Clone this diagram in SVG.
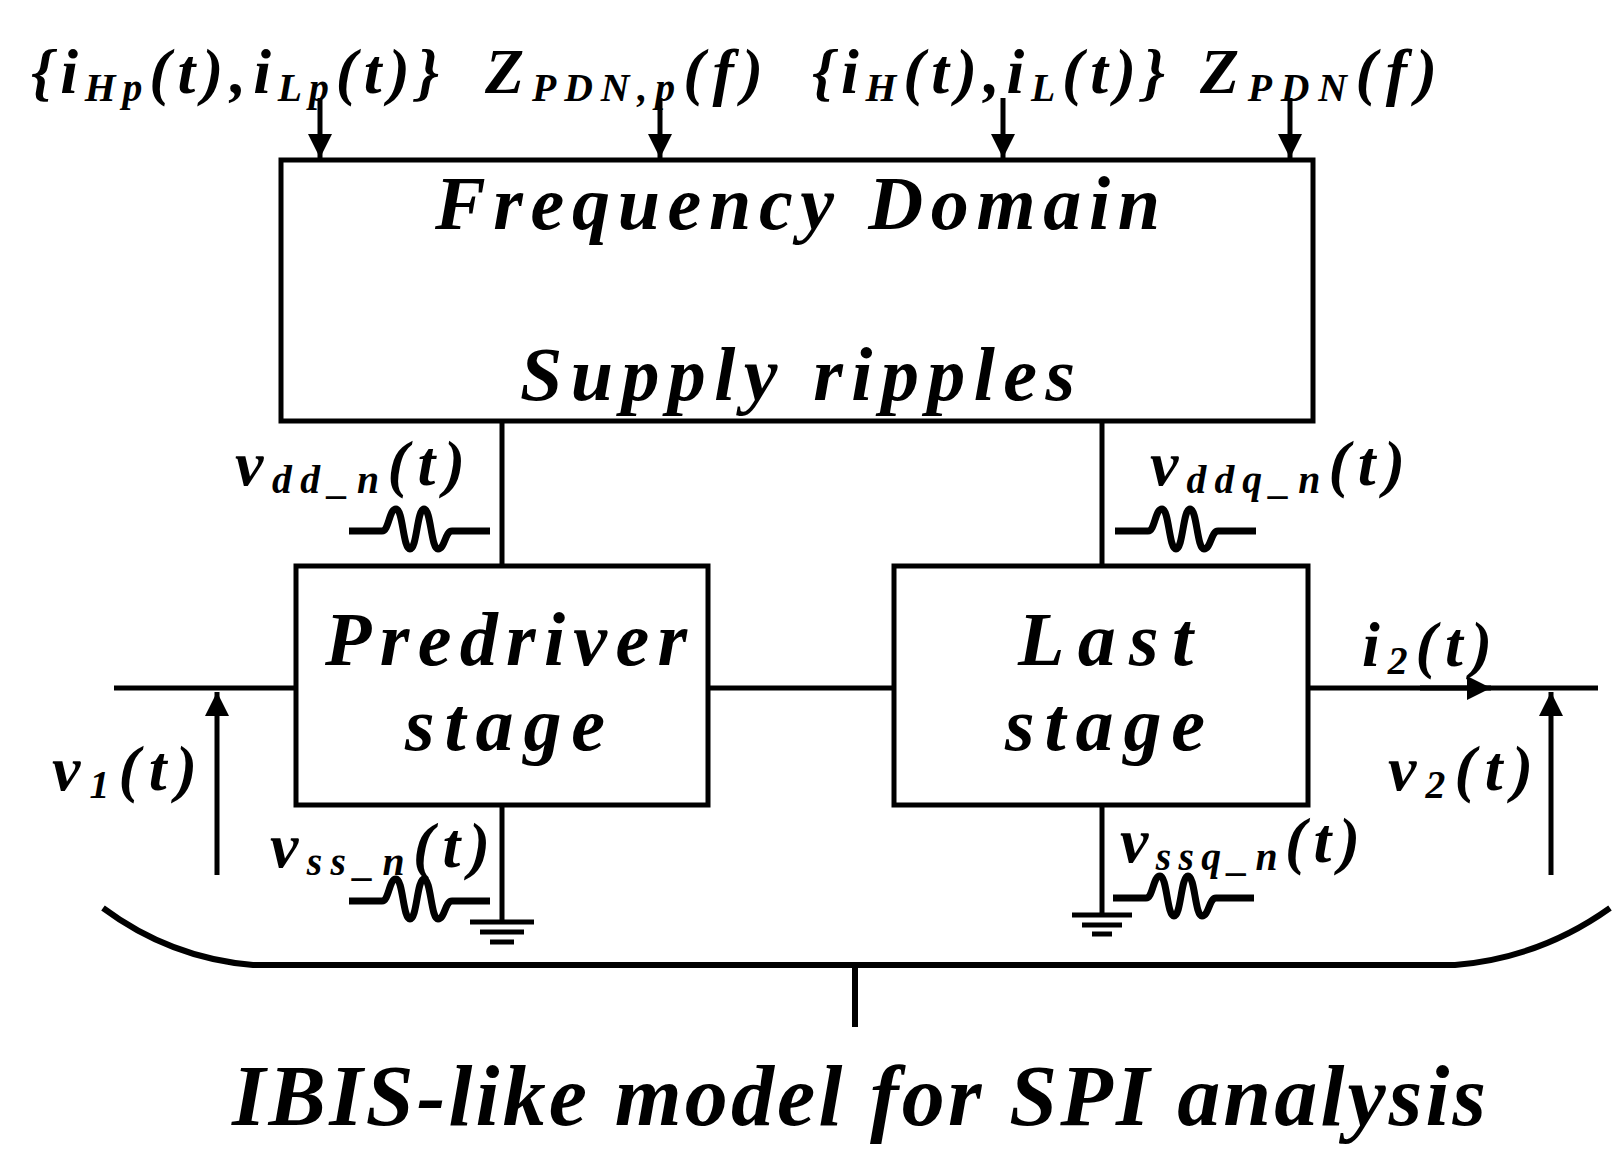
<svg xmlns="http://www.w3.org/2000/svg" width="1615" height="1168" viewBox="0 0 1615 1168">
<defs>
<style>
.t{font-family:"Liberation Serif",serif;font-weight:bold;font-style:italic;fill:#000}
.s{font-size:62%}
.ln{stroke:#000;stroke-width:5;fill:none}
.box{stroke:#000;stroke-width:5;fill:#fff}
</style>
<marker id="a2" viewBox="0 0 10 10" refX="10" refY="5" markerWidth="30" markerHeight="24" orient="auto" markerUnits="userSpaceOnUse"><path d="M0,0 L10,5 L0,10z"/></marker>
</defs>
<rect width="1615" height="1168" fill="#fff"/>
<g id="connectors" class="ln">
<path d="M320,98V158" marker-end="url(#a2)"/>
<path d="M660,98V158" marker-end="url(#a2)"/>
<path d="M1003,98V158" marker-end="url(#a2)"/>
<path d="M1290,98V158" marker-end="url(#a2)"/>
<path d="M502,421V566M1102,421V566M708,688H894M114,688H296M1308,688H1598"/>
<path d="M1420,688H1491" marker-end="url(#a2)"/>
<path d="M217,875V692" marker-end="url(#a2)"/>
<path d="M1551,875V692" marker-end="url(#a2)"/>
<path d="M502,805V922M470,922h64M480,932h44M490,942h24"/>
<path d="M1102,805V915M1072,915h60M1082,925h40M1092,934h20"/>
<path d="M103,908Q170,958 253,965H1455Q1540,958 1610,908" stroke-width="6"/>
<path d="M855,965V1027" stroke-width="6"/>
<g stroke-width="7">
<path d="M349,531H382c7,0 7,-22 14,-22s7,40 14,40s7,-40 14,-40s7,40 14,40s7,-18 14,-18H490"/>
<path d="M1115,531H1148c7,0 7,-22 14,-22s7,40 14,40s7,-40 14,-40s7,40 14,40s7,-18 14,-18H1256"/>
<path d="M349,901H382c7,0 7,-22 14,-22s7,40 14,40s7,-40 14,-40s7,40 14,40s7,-18 14,-18H490"/>
<path d="M1113,898H1146c7,0 7,-22 14,-22s7,40 14,40s7,-40 14,-40s7,40 14,40s7,-18 14,-18H1254"/>
</g>
</g>
<g id="freq"><rect class="box" x="281" y="160" width="1032" height="261"/>
<text class="t" x="435" y="229" font-size="76" textLength="725" lengthAdjust="spacing">Frequency Domain</text>
<text class="t" x="520" y="400" font-size="76" textLength="555" lengthAdjust="spacing">Supply ripples</text></g>
<g id="pre"><rect class="box" x="296" y="566" width="412" height="239"/>
<text class="t" x="325" y="665" font-size="76" textLength="362" lengthAdjust="spacing">Predriver</text>
<text class="t" x="405" y="750" font-size="76" textLength="200" lengthAdjust="spacing">stage</text></g>
<g id="last"><rect class="box" x="894" y="566" width="414" height="239"/>
<text class="t" x="1018" y="665" font-size="76" textLength="175" lengthAdjust="spacing">Last</text>
<text class="t" x="1005" y="750" font-size="76" textLength="200" lengthAdjust="spacing">stage</text></g>
<g id="labels" font-size="64">
<text class="t" x="31" y="93" textLength="408" lengthAdjust="spacing">{i<tspan class="s" dy="8">Hp</tspan><tspan dy="-8">(t),i</tspan><tspan class="s" dy="8">Lp</tspan><tspan dy="-8">(t)}</tspan></text>
<text class="t" x="485" y="93" textLength="278" lengthAdjust="spacing">Z<tspan class="s" dy="8">PDN,p</tspan><tspan dy="-8">(f)</tspan></text>
<text class="t" x="812" y="93" textLength="353" lengthAdjust="spacing">{i<tspan class="s" dy="8">H</tspan><tspan dy="-8">(t),i</tspan><tspan class="s" dy="8">L</tspan><tspan dy="-8">(t)}</tspan></text>
<text class="t" x="1200" y="93" textLength="237" lengthAdjust="spacing">Z<tspan class="s" dy="8">PDN</tspan><tspan dy="-8">(f)</tspan></text>
<text class="t" x="235" y="485" textLength="230" lengthAdjust="spacing">v<tspan class="s" dy="8">dd_n</tspan><tspan dy="-8">(t)</tspan></text>
<text class="t" x="1150" y="485" textLength="255" lengthAdjust="spacing">v<tspan class="s" dy="8">ddq_n</tspan><tspan dy="-8">(t)</tspan></text>
<text class="t" x="1362" y="666" textLength="130" lengthAdjust="spacing">i<tspan class="s" dy="8">2</tspan><tspan dy="-8">(t)</tspan></text>
<text class="t" x="52" y="790" textLength="145" lengthAdjust="spacing">v<tspan class="s" dy="8">1</tspan><tspan dy="-8">(t)</tspan></text>
<text class="t" x="1388" y="790" textLength="145" lengthAdjust="spacing">v<tspan class="s" dy="8">2</tspan><tspan dy="-8">(t)</tspan></text>
<text class="t" x="270" y="867" textLength="220" lengthAdjust="spacing">v<tspan class="s" dy="8">ss_n</tspan><tspan dy="-8">(t)</tspan></text>
<text class="t" x="1120" y="862" textLength="240" lengthAdjust="spacing">v<tspan class="s" dy="8">ssq_n</tspan><tspan dy="-8">(t)</tspan></text>
<text class="t" x="232" y="1125" font-size="86" textLength="1254" lengthAdjust="spacing">IBIS-like model for SPI analysis</text>
</g>
</svg>
